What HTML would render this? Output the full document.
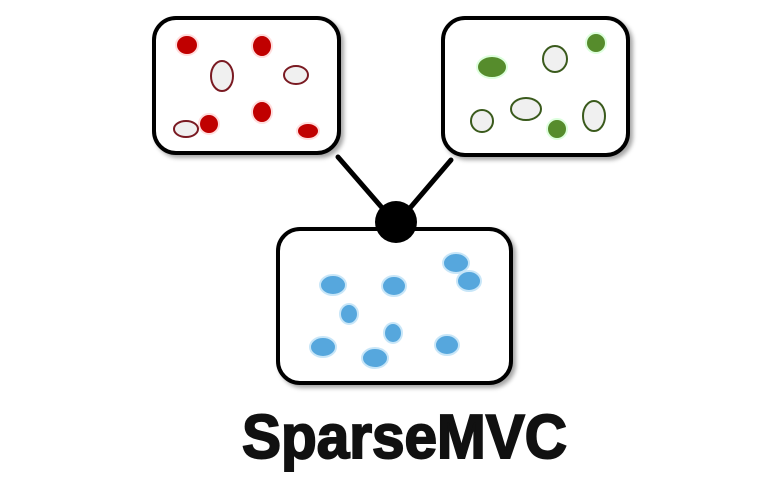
<!DOCTYPE html>
<html><head><meta charset="utf-8"><style>html,body{margin:0;padding:0;background:#fff;width:760px;height:480px;overflow:hidden}</style></head>
<body>
<svg width="760" height="480" viewBox="0 0 760 480" xmlns="http://www.w3.org/2000/svg">
<defs>
<filter id="sh" x="-10%" y="-10%" width="130%" height="130%"><feDropShadow dx="3" dy="3" stdDeviation="2" flood-color="#000" flood-opacity="0.35"/></filter>
</defs>
<g stroke="#000" stroke-width="5" stroke-linecap="round">
<line x1="338" y1="157" x2="384" y2="210"/>
<line x1="451" y1="160" x2="410" y2="208"/>
</g>
<g fill="#fff" stroke="#000" stroke-width="4" filter="url(#sh)">
<rect x="154" y="18" width="185" height="135" rx="22"/>
<rect x="443" y="18" width="185" height="137" rx="22"/>
<rect x="278" y="229" width="233" height="154" rx="22"/>
</g>
<circle cx="396" cy="222" r="21" fill="#000"/>
<!-- red -->
<g fill="#c00000" stroke="#fdd" stroke-width="2">
<ellipse cx="187" cy="45" rx="11" ry="10"/>
<ellipse cx="262" cy="46" rx="10" ry="11"/>
<ellipse cx="262" cy="112" rx="10" ry="11"/>
<ellipse cx="209" cy="124" rx="10" ry="10"/>
<ellipse cx="308" cy="131" rx="11" ry="8"/>
</g>
<g fill="#f0f0f0" stroke="#7a1a22" stroke-width="2">
<ellipse cx="222" cy="76" rx="11" ry="15"/>
<ellipse cx="296" cy="75" rx="12" ry="9"/>
<ellipse cx="186" cy="129" rx="12" ry="8"/>
</g>
<!-- green -->
<g fill="#568c2c" stroke="#dfd" stroke-width="2">
<ellipse cx="492" cy="67" rx="15" ry="11"/>
<ellipse cx="596" cy="43" rx="10" ry="10"/>
<ellipse cx="557" cy="129" rx="10" ry="10"/>
</g>
<g fill="#f0f0f0" stroke="#3a5a1c" stroke-width="2">
<ellipse cx="555" cy="59" rx="12" ry="13"/>
<ellipse cx="526" cy="109" rx="15" ry="11"/>
<ellipse cx="594" cy="116" rx="11" ry="15"/>
<ellipse cx="482" cy="121" rx="11" ry="11"/>
</g>
<!-- blue -->
<g fill="#56a7dd" stroke="#c8e6f8" stroke-width="2">
<ellipse cx="333" cy="285" rx="13" ry="10"/>
<ellipse cx="394" cy="286" rx="12" ry="10"/>
<ellipse cx="456" cy="263" rx="13" ry="10"/>
<ellipse cx="469" cy="281" rx="12" ry="10"/>
<ellipse cx="349" cy="314" rx="9" ry="10"/>
<ellipse cx="393" cy="333" rx="9" ry="10"/>
<ellipse cx="323" cy="347" rx="13" ry="10"/>
<ellipse cx="375" cy="358" rx="13" ry="10"/>
<ellipse cx="447" cy="345" rx="12" ry="10"/>
</g>
<text x="242" y="458" textLength="325" lengthAdjust="spacingAndGlyphs" font-family="Liberation Sans, sans-serif" font-weight="900" font-size="62" fill="#111" stroke="#111" stroke-width="2">SparseMVC</text>
</svg>
</body></html>
